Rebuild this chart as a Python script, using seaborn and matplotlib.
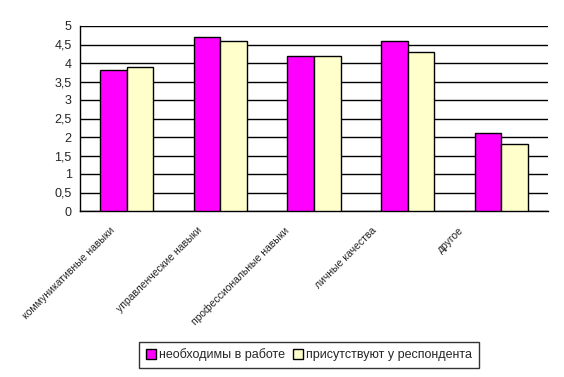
import pandas as pd
import matplotlib.pyplot as plt
import matplotlib.transforms as mtransforms
import seaborn as sns
from matplotlib.ticker import MultipleLocator, FuncFormatter

categories = ["коммуникативные навыки", "управленческие навыки",
              "профессиональные навыки", "личные качества", "другое"]
needed = [3.8, 4.7, 4.2, 4.6, 2.1]
present = [3.9, 4.6, 4.2, 4.3, 1.8]
series = ["необходимы в работе", "присутствуют у респондента"]

df = pd.DataFrame({
    "category": categories * 2,
    "value": needed + present,
    "series": [series[0]] * len(categories) + [series[1]] * len(categories),
})

sns.set_style("white")
plt.rcParams['font.family'] = ['Liberation Sans', 'DejaVu Sans']

fig = plt.figure(figsize=(5.64, 3.77), dpi=100)
ax = fig.add_axes([80 / 564, 1 - 211 / 377, 468 / 564, 185 / 377])

sns.barplot(data=df, x="category", y="value", hue="series",
            palette=["#ff00ff", "#ffffcc"], width=0.57, gap=0,
            edgecolor="black", linewidth=1, saturation=1, ax=ax, zorder=3)

ax.set_ylim(0, 5)
ax.set_xlim(-0.5, len(categories) - 0.5)
ax.yaxis.set_major_locator(MultipleLocator(0.5))
ax.yaxis.set_major_formatter(FuncFormatter(lambda v, p: f"{v:g}".replace(".", ",")))
ax.grid(axis="y", color="black", linewidth=1, zorder=0)
ax.set_axisbelow(True)
ax.set_xlabel("")
ax.set_ylabel("")

for s in ["top", "right"]:
    ax.spines[s].set_visible(False)
for s in ["left", "bottom"]:
    ax.spines[s].set_color("black")
    ax.spines[s].set_linewidth(1)

# ticks between categories on x axis
ax.set_xticks([i - 0.5 for i in range(len(categories) + 1)], minor=True)
ax.tick_params(axis="x", which="minor", direction="out", length=4, color="black", width=1)
ax.tick_params(axis="x", which="major", length=0, pad=10)
ax.tick_params(axis="y", direction="out", length=4, color="black", width=1, labelsize=9, pad=2)
ax.set_xticks(range(len(categories)))
ax.set_xticklabels(categories, rotation=45, ha="right", rotation_mode="anchor", fontsize=7.5)

# Excel-like label placement: labels drift left of the category centre
for i, lab in enumerate(ax.get_xticklabels()):
    shift = mtransforms.ScaledTranslation(-(17 + 6.5 * i) / 100, 0, fig.dpi_scale_trans)
    lab.set_transform(lab.get_transform() + shift)

handles, labels = ax.get_legend_handles_labels()
leg = fig.legend(handles, labels, loc="center", bbox_to_anchor=(309 / 564, 1 - 355 / 377),
                 ncol=2, frameon=True, fancybox=False, fontsize=9,
                 handlelength=0.8, handleheight=0.8, handletextpad=0.3,
                 columnspacing=0.6, borderpad=0.5)
leg.get_frame().set_edgecolor("black")
leg.get_frame().set_linewidth(1)
if ax.get_legend():
    ax.get_legend().remove()

fig.savefig("out.png", dpi=100)
